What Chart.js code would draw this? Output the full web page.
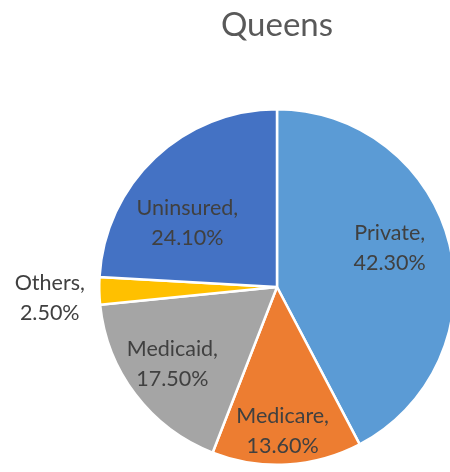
<!DOCTYPE html>
<html>
<head>
<meta charset="utf-8">
<script src="https://cdn.jsdelivr.net/npm/chart.js@4"></script>
<style>
    html, body { margin: 0; padding: 0; background: #fff; overflow: hidden; }
    #wrap { position: absolute; left: 0; top: 0; width: 554px; height: 466px; }
</style>
</head>
<body>
<div id="wrap"><canvas id="pie-chart"></canvas></div>
<script>
// data
const chartTitle = "Queens";
const categories = ["Private", "Medicare", "Medicaid", "Others", "Uninsured"];
const shares = [42.3, 13.6, 17.5, 2.5, 24.1];
const sliceColors = ["#5B9BD5", "#ED7D31", "#A5A5A5", "#FFC000", "#4472C4"];

// where each label sits: fraction of radius, and a nudge in degrees off the slice middle
const labelPlace = [
    { r: 0.67, turn: -5 },
    { r: 0.81, turn: 1 },
    { r: 0.73, turn: 1 },
    { r: 1.28, turn: -1.5 },
    { r: 0.62, turn: -11 }
];

const sliceLabels = {
    id: "sliceLabels",
    afterDatasetsDraw(chart) {
        let ctx = chart.ctx
        let meta = chart.getDatasetMeta(0)
        ctx.save()
        ctx.font = "21.5px Lato"
        ctx.fillStyle = "#404040"
        ctx.textAlign = "center"
        ctx.textBaseline = "middle"
        meta.data.forEach((arc, i) => {
            let p = arc.getProps(["x", "y", "startAngle", "endAngle", "outerRadius"], true)
            let mid = (p.startAngle + p.endAngle) / 2 + labelPlace[i].turn * Math.PI / 180
            let dist = p.outerRadius * labelPlace[i].r
            let x = p.x + Math.cos(mid) * dist
            let y = p.y + Math.sin(mid) * dist
            ctx.fillText(categories[i] + ",", x, y - 15)
            ctx.fillText(shares[i].toFixed(2) + "%", x, y + 15)
        })
        ctx.restore()
    }
};

let pieChart = new Chart(document.getElementById("pie-chart").getContext("2d"), {
    type: "pie",
    data: {
        labels: categories,
        datasets: [{
            data: shares,
            backgroundColor: sliceColors,
            borderColor: "#ffffff",
            borderWidth: 2.5
        }]
    },
    options: {
        responsive: true,
        maintainAspectRatio: false,
        animation: false,
        layout: { padding: 0 },
        plugins: {
            legend: { display: false },
            tooltip: { enabled: false },
            title: {
                display: true,
                text: chartTitle,
                color: "#595959",
                font: { family: "Lato", size: 33, weight: "normal" },
                padding: { top: 6, bottom: 62.4 }
            }
        }
    },
    plugins: [sliceLabels]
});
</script>
</body>
</html>
